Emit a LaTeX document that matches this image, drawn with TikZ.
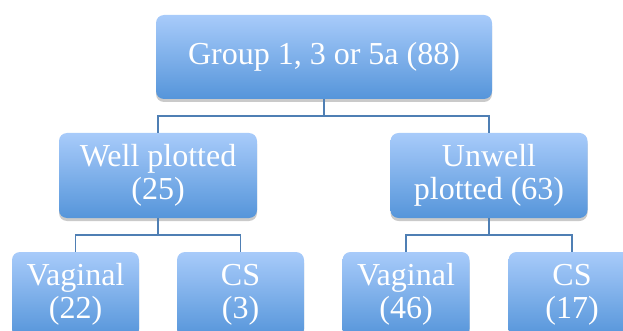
\documentclass[tikz,border=0pt]{standalone}
\usepackage{fontspec}
\setmainfont{Liberation Serif}
\usetikzlibrary{shadows}
\definecolor{boxtop}{HTML}{A8CBFA}
\definecolor{boxbot}{HTML}{5595DA}
\definecolor{linkblue}{HTML}{4F7FB4}
\tikzset{
  groupbox/.style={rounded corners=8pt, top color=boxtop, bottom color=boxbot, draw=none,
    text=white, align=center, inner sep=0pt, font=\fontsize{32}{33}\selectfont,
    drop shadow={shadow xshift=0pt, shadow yshift=-3pt, opacity=0.35, fill=black!60}},
  link/.style={draw=linkblue, line width=1.6pt}
}
\begin{document}
\begin{tikzpicture}[x=1pt,y=-1pt]
\useasboundingbox (0,0) rectangle (623,331);
\clip (0,0) rectangle (623,331);
\node[groupbox, minimum width=336pt, minimum height=84pt] (group) at (324, 57) {Group 1, 3 or 5a (88)}; % root
\node[groupbox, minimum width=198pt, minimum height=85pt] (well) at (158, 175.5) {Well plotted\\(25)}; % left branch
\node[groupbox, minimum width=197pt, minimum height=85pt] (unwell) at (489, 175.5) {Unwell\\plotted (63)}; % right branch
\node[groupbox, minimum width=127pt, minimum height=85pt] (wellvag) at (75.5, 294.5) {Vaginal\\(22)};
\node[groupbox, minimum width=127pt, minimum height=85pt] (wellcs) at (240.5, 294.5) {CS\\(3)};
\node[groupbox, minimum width=127pt, minimum height=85pt] (unwellvag) at (406, 294.5) {Vaginal\\(46)};
\node[groupbox, minimum width=127pt, minimum height=85pt] (unwellcs) at (572, 294.5) {CS\\(17)};
\draw[link] (group.south) -- ++(0,17) coordinate (groupfork); % root fork
\draw[link] (groupfork) -| (well.north);
\draw[link] (groupfork) -| (unwell.north);
\draw[link] (well.south) -- ++(0,17) coordinate (wellfork); % left fork
\draw[link] (wellfork) -| (wellvag.north);
\draw[link] (wellfork) -| (wellcs.north);
\draw[link] (unwell.south) -- ++(0,17) coordinate (unwellfork); % right fork
\draw[link] (unwellfork) -| (unwellvag.north);
\draw[link] (unwellfork) -| (unwellcs.north);
\end{tikzpicture}
\end{document}
